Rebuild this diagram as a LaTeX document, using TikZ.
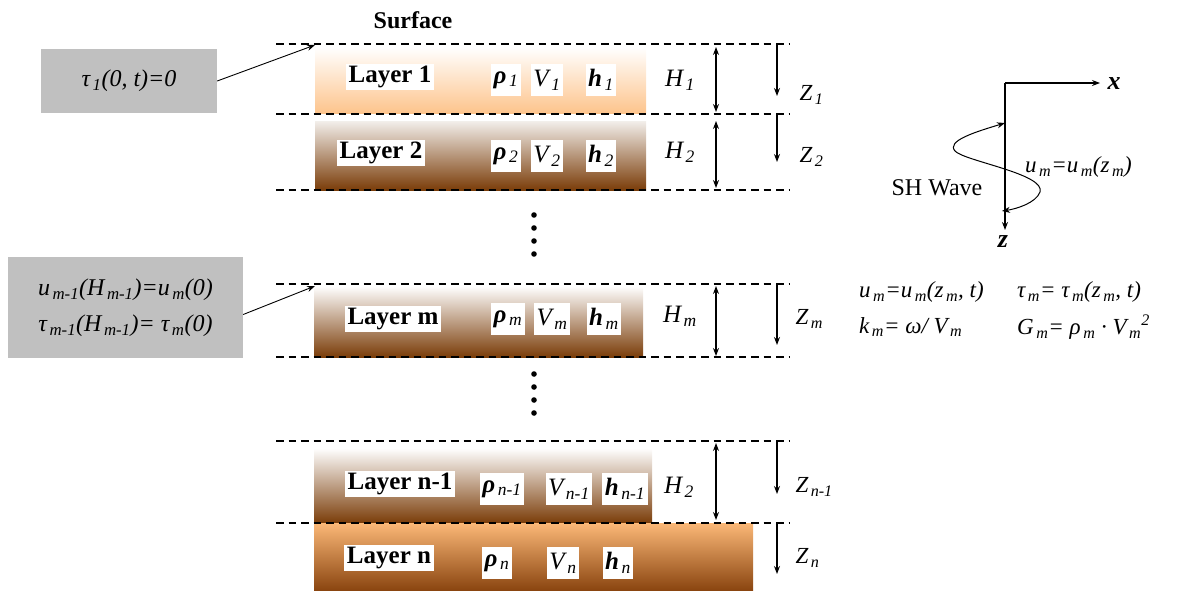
\documentclass[tikz,border=0pt]{standalone}
\usepackage{fontspec}
\setmainfont{Liberation Serif}
\usetikzlibrary{arrows.meta}
\newcommand{\sbs}[1]{\kern2.5pt\textsubscript{\textit{#1}}}
\definecolor{gboxc}{HTML}{C0C0C0}
\definecolor{lorange}{HTML}{FDC48C}
\definecolor{dbrown}{HTML}{7A3C08}
\definecolor{ltop}{HTML}{F2EEEA}
\definecolor{ntop}{HTML}{FBB877}
\definecolor{nbot}{HTML}{8A4510}
\begin{document}
\begin{tikzpicture}[x=1pt,y=-1pt,
  dashln/.style={line width=2.5pt, dash pattern=on 7.5pt off 5pt},
  lay/.style={rectangle, inner sep=0pt, anchor=north west},
  lab/.style={fill=white, inner sep=2.5pt, font=\fontsize{25}{28}\selectfont\bfseries},
  par/.style={fill=white, inner sep=2.5pt, minimum height=32pt, font=\fontsize{25}{27}\selectfont\itshape},
  gbox/.style={fill=gboxc, inner sep=0pt, align=center, font=\fontsize{24}{36}\selectfont\itshape},
  hl/.style={font=\fontsize{25}{27}\selectfont\itshape},
  zl/.style={anchor=west, font=\fontsize{23}{25}\selectfont\itshape},
  eq/.style={anchor=west, inner sep=0pt, font=\fontsize{23}{26}\selectfont\itshape},
  tip/.style={-{Stealth[length=8pt,width=6pt]}, line width=1.1pt},
  dtip/.style={{Stealth[length=8pt,width=6pt]}-{Stealth[length=8pt,width=6pt]}, line width=1.1pt},
  dotc/.style={fill=black}
]
\useasboundingbox (0,0) rectangle (1191,590);

% layers
\node[lay, minimum width=331pt, minimum height=66pt, top color=white, bottom color=lorange] (L1) at (315,47) {};
\node[lay, minimum width=331pt, minimum height=69pt, top color=ltop, bottom color=dbrown] (L2) at (315,121) {};
\node[lay, minimum width=329pt, minimum height=71pt, top color=white, bottom color=dbrown] (Lm) at (314,286) {};
\node[lay, minimum width=338pt, minimum height=75pt, top color=white, bottom color=dbrown] (Ln1) at (314,448) {};
\node[lay, minimum width=439pt, minimum height=67pt, top color=ntop, bottom color=nbot] (Ln) at (314,523) {};

% dashed interfaces
\foreach \yy in {44,114,190,284,357,441,523}
  \draw[dashln] (276,\yy) -- (790,\yy);

% dots
\foreach \yy in {215,228,241,254,374,387,400,413}
  \fill[dotc] (534,\yy) circle[radius=2.8pt];

% surface
\node[font=\fontsize{24}{26}\selectfont\bfseries] (surf) at (413,20) {Surface};

% layer labels
\node[lab] (t1) at (390,77) {Layer 1};
\node[lab] (t2) at (381,153) {Layer 2};
\node[lab] (tm) at (393,319) {Layer m};
\node[lab] (tn1) at (400,484) {Layer n-1};
\node[lab] (tn) at (389,558) {Layer n};

% parameters
\node[par] (r1) at (506,80) {{\bfseries ρ}\sbs{1}};
\node[par] (v1) at (547,80) {V\sbs{1}};
\node[par] (h1) at (601,80) {{\bfseries h}\sbs{1}};
\node[par] (r2) at (506,156) {{\bfseries ρ}\sbs{2}};
\node[par] (v2) at (547,156) {V\sbs{2}};
\node[par] (h2) at (601,156) {{\bfseries h}\sbs{2}};
\node[par] (rm) at (508,319) {{\bfseries ρ}\sbs{m}};
\node[par] (vm) at (552,319) {V\sbs{m}};
\node[par] (hm) at (604,319) {{\bfseries h}\sbs{m}};
\node[par] (rn1) at (502,489) {{\bfseries ρ}\sbs{n-1}};
\node[par] (vn1) at (569,489) {V\sbs{n-1}};
\node[par] (hn1) at (625,489) {{\bfseries h}\sbs{n-1}};
\node[par] (rn) at (497,563) {{\bfseries ρ}\sbs{n}};
\node[par] (vn) at (563,563) {V\sbs{n}};
\node[par] (hn) at (618,563) {{\bfseries h}\sbs{n}};

% H labels and thickness arrows
\node[hl] (H1) at (680,80) {H\sbs{1}};
\node[hl] (H2) at (680,152) {H\sbs{2}};
\node[hl] (Hm) at (680,316) {H\sbs{m}};
\node[hl] (Hn1) at (679,487) {H\sbs{2}};
\coordinate (a1t) at (716,47);  \coordinate (a1b) at (716,112);
\coordinate (a2t) at (716,121); \coordinate (a2b) at (716,188);
\coordinate (amt) at (716,286); \coordinate (amb) at (716,356);
\coordinate (ant) at (716,443); \coordinate (anb) at (716,520);
\draw[dtip] (a1t) -- (a1b);
\draw[dtip] (a2t) -- (a2b);
\draw[dtip] (amt) -- (amb);
\draw[dtip] (ant) -- (anb);

% local depth arrows
\coordinate (z1t) at (777,44);  \coordinate (z1b) at (777,96);
\coordinate (z2t) at (777,115); \coordinate (z2b) at (777,162);
\coordinate (zmt) at (777,284); \coordinate (zmb) at (777,345);
\coordinate (zn1t) at (777,441); \coordinate (zn1b) at (777,494);
\coordinate (znt) at (777,523); \coordinate (znb) at (777,574);
\draw[tip] (z1t) -- (z1b);
\draw[tip] (z2t) -- (z2b);
\draw[tip] (zmt) -- (zmb);
\draw[tip] (zn1t) -- (zn1b);
\draw[tip] (znt) -- (znb);
\node[zl] (Z1) at (796,95) {Z\sbs{1}};
\node[zl] (Z2) at (796,157) {Z\sbs{2}};
\node[zl] (Zm) at (792,319) {Z\sbs{m}};
\node[zl] (Zn1) at (792,487) {Z\sbs{n-1}};
\node[zl] (Zn) at (792,558) {Z\sbs{n}};

% boundary condition boxes
\node[gbox, minimum width=176pt, minimum height=64pt] (g1) at (129,81) {τ\sbs{1}(0, t)=0};
\node[gbox, minimum width=235pt, minimum height=101pt] (g2) at (125.5,307.5)
  {u\sbs{m-1}(H\sbs{m-1})=u\sbs{m}(0)\\ τ\sbs{m-1}(H\sbs{m-1})= τ\sbs{m}(0)};
\coordinate (s1) at (315,45);
\coordinate (sm) at (315,286);
\draw[tip, line width=0.9pt] (g1.east) -- (s1);
\draw[tip, line width=0.9pt] ([yshift=-7pt]g2.east) -- (sm);

% axes and SH wave
\coordinate (O) at (1005,83);
\coordinate (xend) at (1100,83);
\node[font=\fontsize{26}{28}\selectfont\bfseries\itshape] (xl) at (1114,84) {x};
\node[font=\fontsize{26}{28}\selectfont\bfseries\itshape] (zlab) at (1003,242) {z};
\coordinate (zend) at (1005,230);
\draw[tip] (O) -- (xend);
\draw[tip] (O) -- (zend);
\draw[dtip, line width=1pt] (1005,123) .. controls (975,132) and (946,141) .. (955,151)
  .. controls (964,161) and (1046,174) .. (1040,192)
  .. controls (1036,203) and (1016,209) .. (1002,211);
\node[font=\fontsize{24}{27}\selectfont] (sh) at (937,188) {SH Wave};
\node[eq] (um) at (1025,167) {u\sbs{m}=u\sbs{m}(z\sbs{m})};

% relations
\node[eq] (e1) at (859,292) {u\sbs{m}=u\sbs{m}(z\sbs{m}, t)};
\node[eq] (e2) at (1017,292) {τ\sbs{m}= τ\sbs{m}(z\sbs{m}, t)};
\node[eq] (e3) at (859,327) {k\sbs{m}= ω/ V\sbs{m}};
\node[eq] (e4) at (1017,327) {G\sbs{m}= ρ\sbs{m} · V\sbs{m}\textsuperscript{2}};
\end{tikzpicture}
\end{document}
